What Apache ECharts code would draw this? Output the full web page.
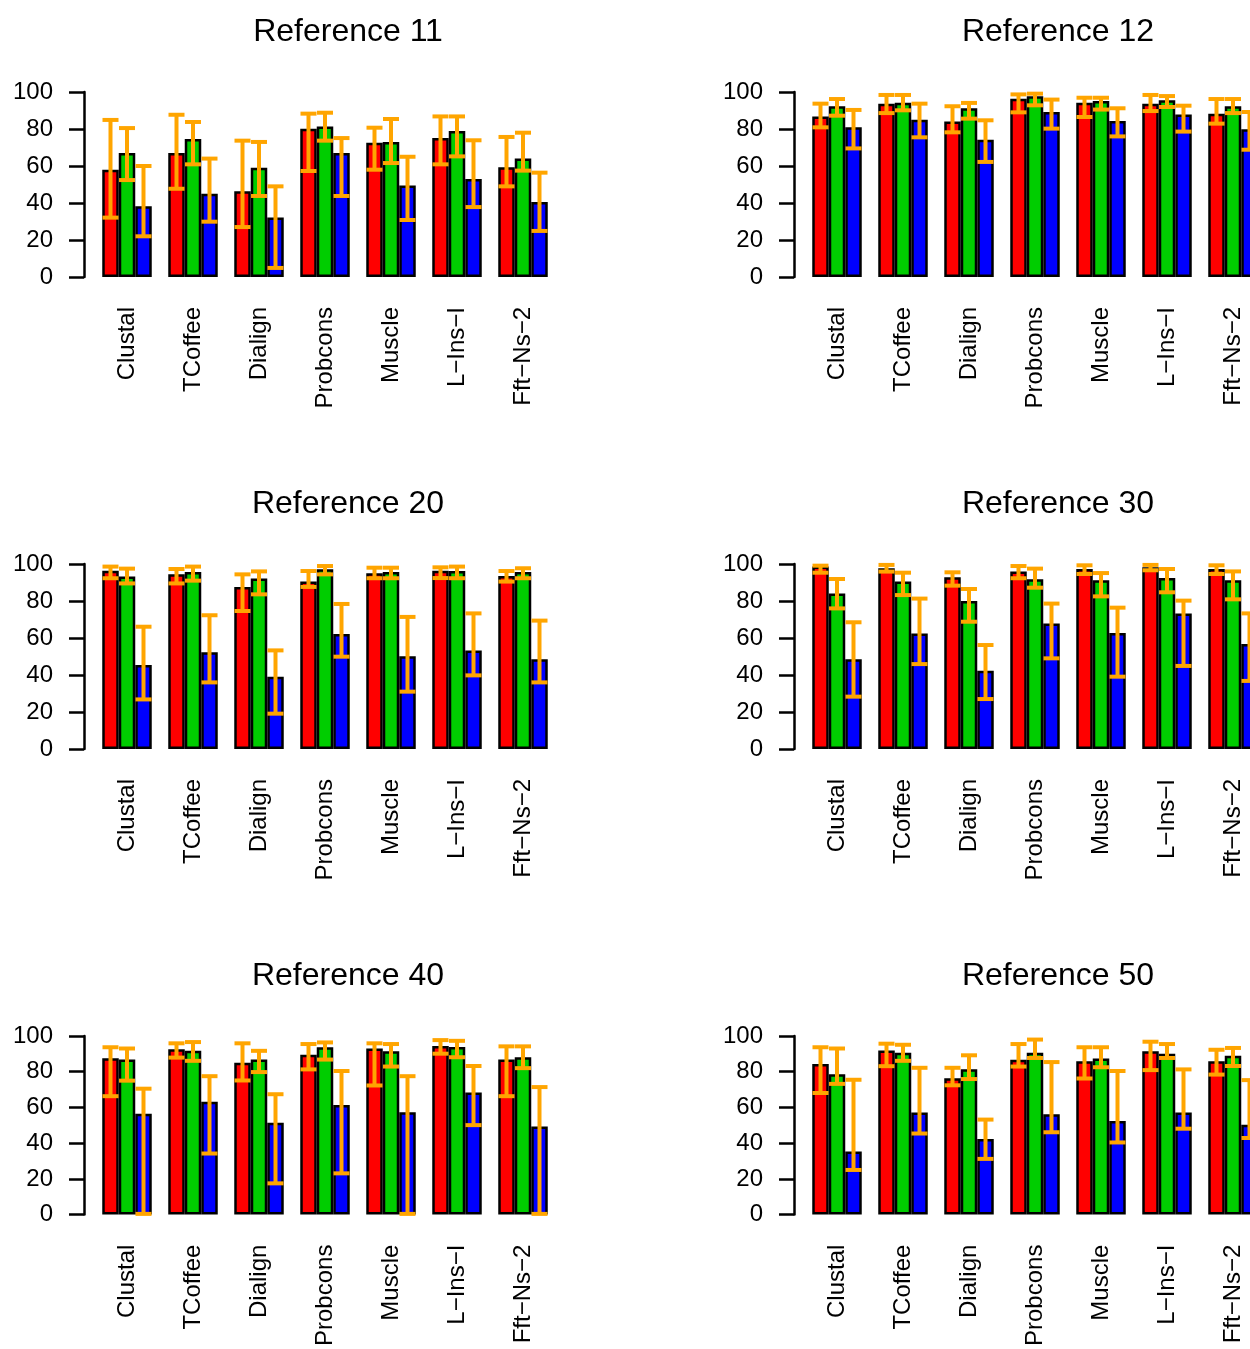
<!DOCTYPE html>
<html>
<head>
<meta charset="utf-8">
<script src="https://cdn.jsdelivr.net/npm/echarts@6/dist/echarts.min.js"></script>
<style>
html,body{margin:0;padding:0;background:#fff;overflow:hidden;}
#chart{width:1290px;height:1349px;}
</style>
</head>
<body>
<div id="chart"></div>
<script>
// ---------- data ----------
const categories = ["Clustal", "TCoffee", "Dialign", "Probcons", "Muscle", "L\u2212Ins\u2212I", "Fft\u2212Ns\u22122"];
const panelTitles = ["Reference 11", "Reference 12", "Reference 20", "Reference 30", "Reference 40", "Reference 50"];
const yTicks = [0, 20, 40, 60, 80, 100];

// each: [red, green, blue] arrays over the 7 categories
const ref11Mean = [
  [58.0, 67.0, 46.3, 80.2, 72.6, 75.1, 59.3],
  [67.0, 74.6, 59.1, 81.3, 73.0, 78.9, 64.1],
  [38.2, 45.0, 32.1, 67.0, 49.5, 53.0, 40.5]];
const ref11Low = [
  [32.1, 47.7, 27.0, 57.3, 58.0, 60.9, 49.0],
  [52.4, 60.9, 43.8, 73.7, 61.6, 65.2, 57.5],
  [22.0, 29.9, 4.9, 43.8, 30.8, 37.8, 24.9]];
const ref11High = [
  [84.9, 87.7, 73.7, 88.3, 80.7, 86.8, 75.7],
  [80.5, 83.8, 73.0, 88.8, 85.4, 86.8, 78.0],
  [60.0, 64.0, 49.0, 75.1, 65.0, 73.9, 56.4]];

const ref12Mean = [
  [86.8, 93.7, 84.0, 96.4, 94.2, 93.7, 88.3],
  [92.3, 94.2, 91.2, 97.7, 95.1, 95.5, 92.3],
  [80.9, 85.0, 74.2, 89.2, 84.3, 87.9, 79.8]];
const ref12Low = [
  [80.9, 88.6, 78.2, 89.0, 86.5, 89.7, 82.9],
  [87.2, 90.1, 85.6, 92.8, 90.5, 91.9, 88.6],
  [69.5, 75.5, 62.2, 80.2, 76.0, 78.6, 68.8]];
const ref12High = [
  [93.7, 98.4, 92.3, 98.7, 96.9, 98.4, 96.2],
  [96.2, 98.4, 94.1, 99.1, 96.9, 97.8, 96.2],
  [90.3, 93.7, 84.7, 95.9, 91.2, 92.6, 89.2]];

const ref20Mean = [
  [96.4, 94.4, 87.6, 90.5, 95.0, 96.4, 93.5],
  [93.2, 95.7, 92.1, 97.1, 95.7, 96.2, 95.7],
  [45.4, 52.3, 39.1, 62.2, 50.1, 53.3, 48.5]];
const ref20Low = [
  [92.3, 89.5, 74.6, 87.6, 92.3, 92.4, 90.5],
  [89.5, 91.0, 83.6, 94.4, 92.3, 92.3, 92.3],
  [26.8, 36.0, 19.1, 49.9, 31.0, 39.8, 36.0]];
const ref20High = [
  [98.6, 97.3, 94.4, 96.2, 98.0, 98.2, 96.2],
  [97.5, 98.6, 96.0, 98.9, 98.0, 98.6, 97.7],
  [66.1, 72.3, 53.3, 78.4, 71.4, 73.3, 69.4]];

const ref30Mean = [
  [98.6, 97.7, 92.8, 96.0, 97.3, 98.2, 97.3],
  [84.0, 90.6, 80.0, 91.7, 91.2, 92.4, 91.2],
  [48.5, 62.5, 42.3, 67.9, 62.7, 73.3, 56.8]];
const ref30Low = [
  [95.3, 95.9, 88.3, 92.3, 94.6, 96.6, 94.6],
  [76.0, 83.2, 68.8, 87.2, 82.5, 84.7, 80.9],
  [28.3, 45.9, 27.0, 49.0, 39.1, 44.9, 36.8]];
const ref30High = [
  [99.1, 99.5, 95.5, 98.9, 99.3, 99.5, 99.3],
  [91.9, 95.3, 86.5, 97.5, 95.1, 97.3, 96.0],
  [68.5, 81.3, 56.2, 78.6, 76.4, 80.2, 73.3]];

const ref40Mean = [
  [87.6, 92.6, 85.0, 89.5, 93.0, 94.4, 86.8],
  [86.8, 91.7, 86.8, 93.7, 91.5, 93.9, 88.1],
  [56.4, 63.2, 51.4, 61.3, 57.3, 68.3, 49.4]];
const ref40Low = [
  [66.3, 87.9, 75.1, 81.3, 72.3, 90.1, 66.3],
  [75.0, 86.1, 79.8, 86.8, 82.9, 88.1, 82.0],
  [0.4, 34.2, 17.5, 23.1, 0.4, 50.1, 0.4]];
const ref40High = [
  [93.7, 95.9, 95.9, 95.5, 95.9, 97.7, 94.2],
  [93.0, 96.6, 91.7, 96.4, 95.5, 97.3, 94.2],
  [70.5, 77.5, 67.4, 80.4, 77.5, 83.2, 71.4]];

const ref50Mean = [
  [84.3, 91.9, 76.4, 86.7, 85.9, 91.5, 85.8],
  [78.6, 90.6, 81.4, 90.6, 87.4, 90.1, 89.0],
  [35.3, 57.1, 42.3, 56.2, 52.4, 57.1, 50.3]];
const ref50Low = [
  [68.1, 83.1, 72.4, 82.9, 76.2, 80.9, 78.4],
  [73.2, 86.1, 75.9, 87.7, 82.5, 87.7, 83.2],
  [25.0, 45.4, 31.2, 46.1, 40.4, 48.1, 42.9]];
const ref50High = [
  [93.7, 95.7, 82.2, 95.5, 93.7, 96.8, 92.3],
  [93.0, 95.1, 89.2, 98.0, 93.7, 95.5, 93.3],
  [75.5, 82.2, 53.2, 85.4, 80.4, 81.3, 75.3]];

const panels = [
  [ref11Mean, ref11Low, ref11High],
  [ref12Mean, ref12Low, ref12High],
  [ref20Mean, ref20Low, ref20High],
  [ref30Mean, ref30Low, ref30High],
  [ref40Mean, ref40Low, ref40High],
  [ref50Mean, ref50Low, ref50High]];

// ---------- layout / style ----------
const barColors = ["#FF0000", "#00CD00", "#0000FF"];
const errColor = "#FFA500";
const BAR_W = 16.5;
const FONT = "'Liberation Sans', Arial, Helvetica, sans-serif";
const colLeft = [94, 804];
const rowTop = [92, 564, 1036];
const titleX = [343, 1053];
const GRID_W = 462, GRID_H = 185;

const grids = [], xAxes = [], yAxes = [], series = [], titles = [];
panels.forEach((p, i) => {
  const col = i % 2, row = Math.floor(i / 2);
  grids.push({left: colLeft[col], top: rowTop[row], width: GRID_W, height: GRID_H, containLabel: false});
  titles.push({
    text: panelTitles[i], left: titleX[col], top: rowTop[row] - 81, textAlign: 'center',
    textStyle: {fontFamily: FONT, fontSize: 32, fontWeight: 'normal', color: '#000'}
  });
  xAxes.push({
    type: 'category', gridIndex: i, data: categories, boundaryGap: true,
    axisLine: {show: false}, axisTick: {show: false}, splitLine: {show: false},
    axisLabel: {rotate: 90, margin: 30, fontSize: 24, fontFamily: FONT, color: '#000', interval: 0}
  });
  yAxes.push({
    type: 'value', gridIndex: i, min: yTicks[0], max: yTicks[yTicks.length - 1], interval: 20,
    offset: 10,
    axisLine: {show: true, lineStyle: {color: '#000', width: 2.5}},
    axisTick: {show: true, length: 15, lineStyle: {color: '#000', width: 2.5}},
    splitLine: {show: false},
    axisLabel: {margin: 31, fontSize: 24, fontFamily: FONT, color: '#000'}
  });
  const [mean, lo, hi] = p;
  for (let k = 0; k < 3; k++) {
    series.push({
      type: 'bar', xAxisIndex: i, yAxisIndex: i, data: mean[k],
      barWidth: BAR_W, barGap: '0%',
      itemStyle: {color: barColors[k], borderColor: '#000', borderWidth: 2.5},
      z: 2
    });
  }
  const errData = [];
  for (let k = 0; k < 3; k++)
    for (let c = 0; c < categories.length; c++)
      errData.push([c, k, lo[k][c], hi[k][c]]);
  series.push({
    type: 'custom', xAxisIndex: i, yAxisIndex: i, data: errData, z: 5, clip: false,
    encode: {x: 0, y: [2, 3]},
    renderItem: function (params, api) {
      const c = api.value(0), k = api.value(1);
      const pLo = api.coord([c, api.value(2)]);
      const pHi = api.coord([c, api.value(3)]);
      const x = pLo[0] + (k - 1) * BAR_W;
      const hw = 8;
      const st = {stroke: errColor, lineWidth: 4, fill: null};
      return {
        type: 'group',
        children: [
          {type: 'line', shape: {x1: x, y1: pLo[1], x2: x, y2: pHi[1]}, style: st},
          {type: 'line', shape: {x1: x - hw, y1: pLo[1], x2: x + hw, y2: pLo[1]}, style: st},
          {type: 'line', shape: {x1: x - hw, y1: pHi[1], x2: x + hw, y2: pHi[1]}, style: st}
        ]
      };
    }
  });
});

const chart = echarts.init(document.getElementById('chart'), null, {renderer: 'canvas'});
chart.setOption({
  animation: false,
  backgroundColor: '#fff',
  title: titles,
  grid: grids,
  xAxis: xAxes,
  yAxis: yAxes,
  series: series
});
</script>
</body>
</html>
